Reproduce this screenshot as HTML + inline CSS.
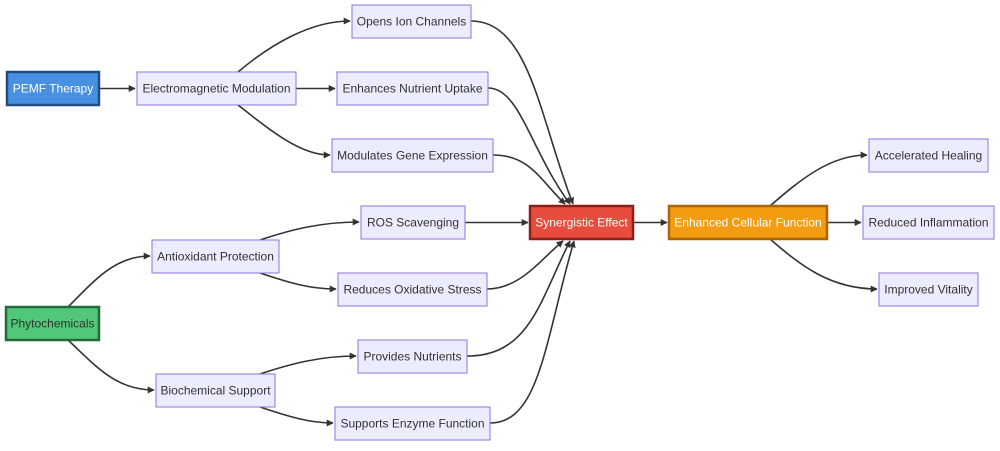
<!DOCTYPE html>
<html><head><meta charset="utf-8"><style>
body{margin:0;background:#fff;}
svg text{font-family:"Liberation Sans",Arial,sans-serif;font-size:12px;dominant-baseline:central;text-anchor:middle;fill:#333;}
.n{fill:#ececff;stroke:#9370db;stroke-width:1;}
.e{fill:none;stroke:#333;stroke-width:1.6;marker-end:url(#a);}
</style></head><body>
<svg width="1000" height="446" viewBox="0 0 1000 446" xmlns="http://www.w3.org/2000/svg">
<defs><marker id="a" viewBox="0 0 10 10" refX="9" refY="5" markerWidth="7" markerHeight="7" markerUnits="userSpaceOnUse" orient="auto"><path d="M0,0L10,5L0,10z" fill="#333"/></marker></defs>
<g>
<path class="e" d="M99,88.5H135"/>
<path class="e" d="M238,72C270,45 310,21 350,21"/>
<path class="e" d="M296,88.5H335"/>
<path class="e" d="M238,105C270,130 300,155 330,155"/>
<path class="e" d="M471,21C530,21 540,120 573,204"/>
<path class="e" d="M488,88C520,88 530,150 570,204"/>
<path class="e" d="M493,155C530,155 540,180 565,204"/>
<path class="e" d="M465,222.5H528"/>
<path class="e" d="M487,289C520,289 540,260 563,241"/>
<path class="e" d="M467,356C530,356 540,300 570,241"/>
<path class="e" d="M490,423C540,423 545,340 574,241"/>
<path class="e" d="M633,222.5H667"/>
<path class="e" d="M68,307C95,280 115,256 150,256"/>
<path class="e" d="M68,340C95,365 115,390 154,390"/>
<path class="e" d="M260,240C290,230 320,222 359,222"/>
<path class="e" d="M260,273C290,283 310,289 336,289"/>
<path class="e" d="M260,374C290,364 320,356 356,356"/>
<path class="e" d="M260,407C290,417 310,423 333,423"/>
<path class="e" d="M770,206C800,180 830,155 867,155"/>
<path class="e" d="M827,222.5H861"/>
<path class="e" d="M770,239C800,265 830,289 877,289"/>
</g>
<rect x="7" y="72" width="92" height="33" fill="#4a90e2" stroke="#1f4f80" stroke-width="2.5"/><text x="53" y="88.5" style="fill:#fff">PEMF Therapy</text>
<rect class="n" x="137" y="72" width="159" height="33"/><text x="216.5" y="88.5">Electromagnetic Modulation</text>
<rect class="n" x="352" y="5" width="119" height="33"/><text x="411.5" y="21.5">Opens Ion Channels</text>
<rect class="n" x="337" y="72" width="151" height="33"/><text x="412.5" y="88.5">Enhances Nutrient Uptake</text>
<rect class="n" x="332" y="139" width="161" height="33"/><text x="412.5" y="155.5">Modulates Gene Expression</text>
<rect class="n" x="361" y="206" width="104" height="33"/><text x="413" y="222.5">ROS Scavenging</text>
<rect x="530" y="206" width="103" height="33" fill="#e74c3c" stroke="#8b1f1a" stroke-width="2.5"/><text x="581.5" y="222.5" style="fill:#fff">Synergistic Effect</text>
<rect x="669" y="206" width="158" height="33" fill="#f39c12" stroke="#a86608" stroke-width="2.5"/><text x="748" y="222.5" style="fill:#fff">Enhanced Cellular Function</text>
<rect class="n" x="869" y="139" width="119" height="33"/><text x="928.5" y="155.5">Accelerated Healing</text>
<rect class="n" x="863" y="206" width="131" height="33"/><text x="928.5" y="222.5">Reduced Inflammation</text>
<rect class="n" x="879" y="273" width="99" height="33"/><text x="928.5" y="289.5">Improved Vitality</text>
<rect class="n" x="152" y="240" width="127" height="33"/><text x="215.5" y="256.5">Antioxidant Protection</text>
<rect class="n" x="338" y="273" width="149" height="33"/><text x="412.5" y="289.5">Reduces Oxidative Stress</text>
<rect x="6" y="307" width="93" height="33" fill="#50c878" stroke="#236b3e" stroke-width="2.5"/><text x="52.5" y="323.5">Phytochemicals</text>
<rect class="n" x="358" y="340" width="109" height="33"/><text x="412.5" y="356.5">Provides Nutrients</text>
<rect class="n" x="156" y="374" width="119" height="33"/><text x="215.5" y="390.5">Biochemical Support</text>
<rect class="n" x="335" y="407" width="155" height="33"/><text x="412.5" y="423.5">Supports Enzyme Function</text>
</svg>
</body></html>
